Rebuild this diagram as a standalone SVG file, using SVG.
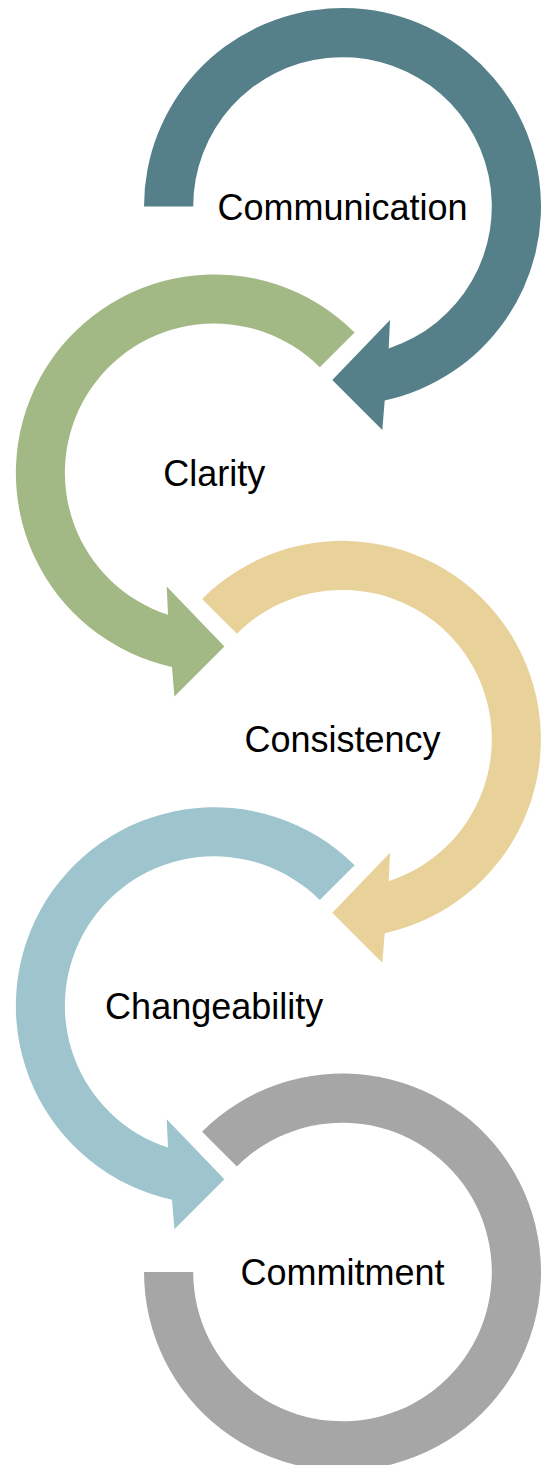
<svg xmlns="http://www.w3.org/2000/svg" width="541" height="1465" viewBox="0 0 541 1465">
<style>
.lbl{font-family:"Liberation Sans",Arial,sans-serif;font-size:36px;fill:#000;text-anchor:middle}
</style>
<defs>
<path id="cwArrow180" d="M -198.5 0 A 198.5 198.5 0 1 1 42.2 194 L 39.8 223.5 L -10.2 173.5 L 47.5 113.5 L 46.2 141.9 A 149.3 149.3 0 1 0 -149.3 0 Z"/>
<path id="cwArrow225" d="M -140.4 -140.4 A 198.5 198.5 0 1 1 42.2 194 L 39.8 223.5 L -10.2 173.5 L 47.5 113.5 L 46.2 141.9 A 149.3 149.3 0 1 0 -105.6 -105.6 Z"/>
<path id="ccwArrow315" d="M 140.4 -140.4 A 198.5 198.5 0 1 0 -42.2 194 L -39.8 223.5 L 10.2 173.5 L -47.5 113.5 L -46.2 141.9 A 149.3 149.3 0 1 1 105.6 -105.6 Z"/>
</defs>
<rect width="541" height="1465" fill="#fff"/>
<g id="connectors"></g>
<g id="node-communication">
<use href="#cwArrow180" transform="translate(342.5 206.5)" fill="#55808A"/>
<text class="lbl" x="342.5" y="219.5">Communication</text>
</g>
<g id="node-clarity">
<use href="#ccwArrow315" transform="translate(214.2 472.9)" fill="#A3B985"/>
<text class="lbl" x="214.2" y="485.9">Clarity</text>
</g>
<g id="node-consistency">
<use href="#cwArrow225" transform="translate(342.5 739.3)" fill="#E9D19A"/>
<text class="lbl" x="342.5" y="752.3">Consistency</text>
</g>
<g id="node-changeability">
<use href="#ccwArrow315" transform="translate(214.2 1005.7)" fill="#9EC4CE"/>
<text class="lbl" x="214.2" y="1018.7">Changeability</text>
</g>
<g id="node-commitment">
<path transform="translate(342.5 1272.1)" d="M -140.4 -140.4 A 198.5 198.5 0 1 1 -198.5 0 L -149.3 0 A 149.3 149.3 0 1 0 -105.6 -105.6 Z" fill="#A6A6A6"/>
<text class="lbl" x="342.5" y="1285.1">Commitment</text>
</g>
</svg>
